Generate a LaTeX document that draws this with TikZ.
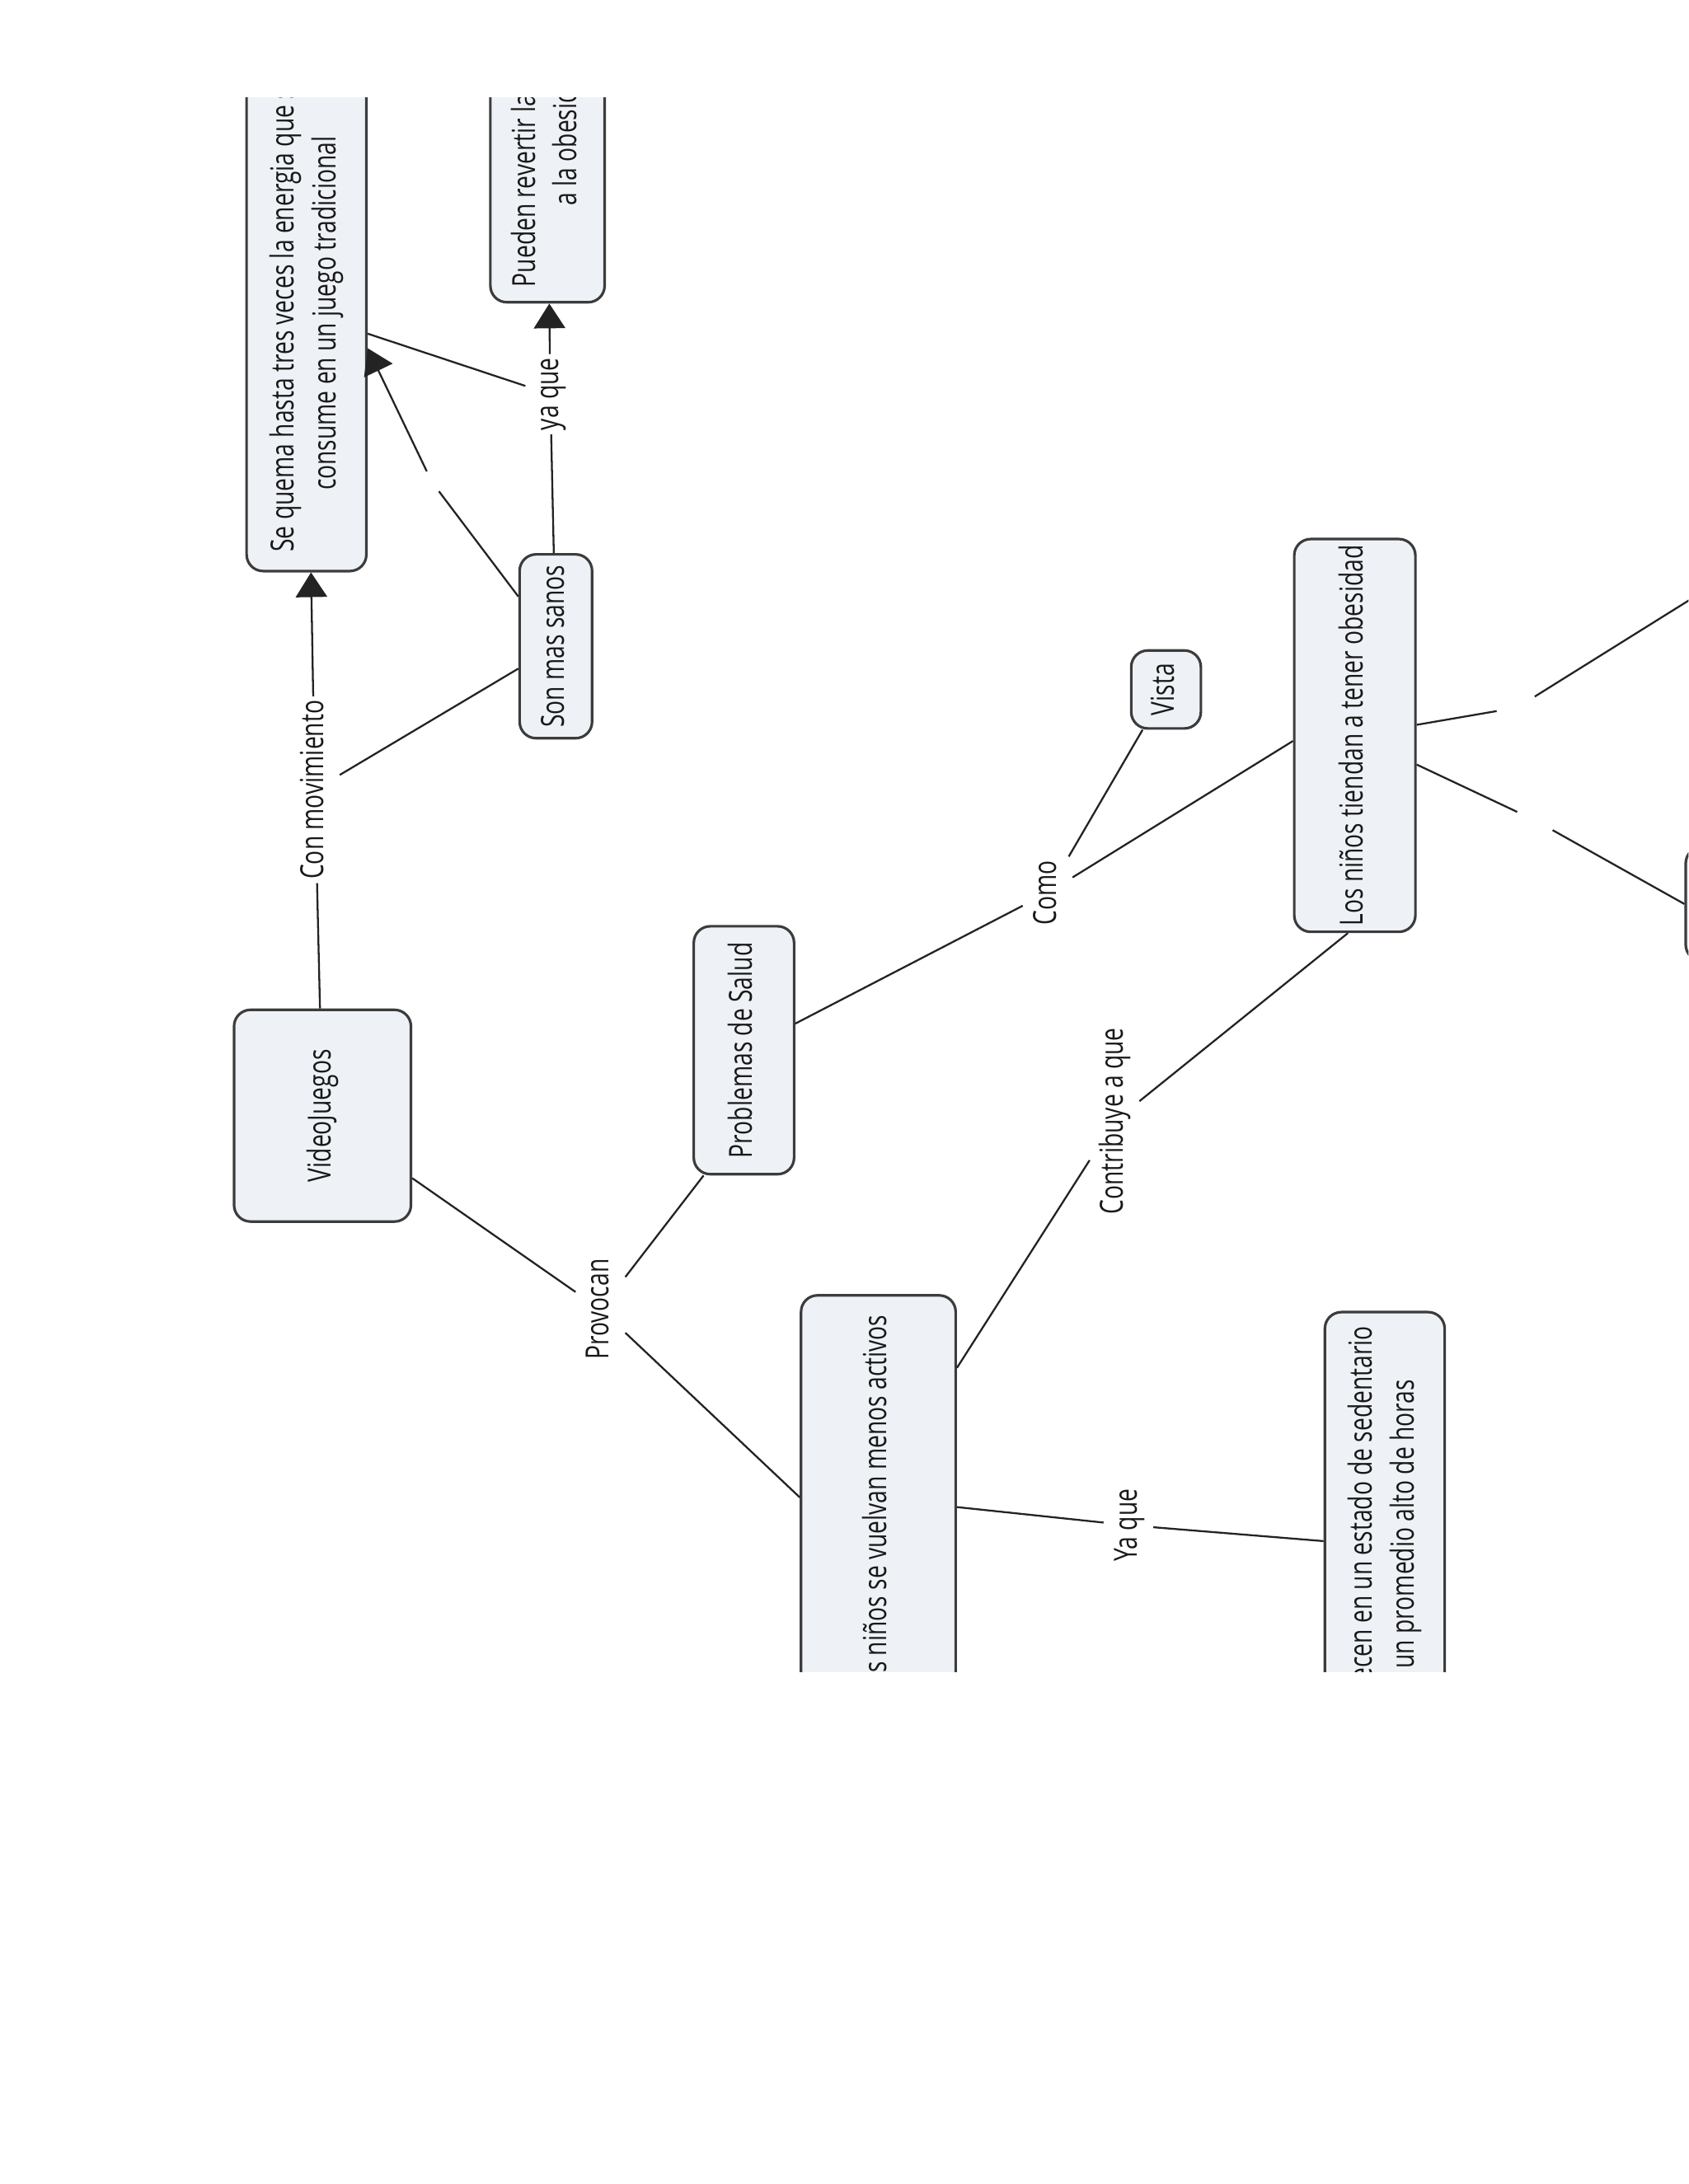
\documentclass[tikz,border=0pt]{standalone}
\usepackage{fontspec}
\setmainfont{Open Sans}[FakeStretch=0.73]
\usepackage{graphicx}
\usetikzlibrary{arrows.meta,calc}
\definecolor{boxc}{RGB}{238,242,246}
\definecolor{bordc}{RGB}{60,60,60}
\definecolor{linec}{RGB}{35,35,35}
\definecolor{txtc}{RGB}{25,25,25}
\newcommand\rt[1]{\rotatebox{90}{\begin{tabular}{@{}c@{}}#1\end{tabular}}}
\tikzset{
  concept/.style={draw=bordc, fill=boxc, rounded corners=2mm, line width=0.9pt,
    inner sep=0pt, text=txtc, font=\fontsize{11}{14.4}\selectfont},
  lbl/.style={inner sep=1.2pt, text=txtc, font=\fontsize{11}{14.4}\selectfont},
  gapn/.style={circle, inner sep=0pt},
  link/.style={draw=linec, line width=0.65pt},
  arr/.style={link, -{Triangle[width=3.8mm,length=3mm]}}
}
\begin{document}
\begin{tikzpicture}[x=0.169mm, y=-0.169mm]
\useasboundingbox (0,0) rectangle (1212,1568);
\fill[white] (0,0) rectangle (1212,1568);
\begin{scope}
\clip (0,70) rectangle (1212,1200);
% concepts
\node[concept, minimum width=21.46mm, minimum height=25.69mm] (vj) at (231.5,801) {\rt{VideoJuegos}};
\node[concept, minimum width=14.53mm, minimum height=62.53mm] (seq) at (220,225) {\rt{Se quema hasta tres veces la energia que se\\consume en un juego tradicional}};
\node[concept, minimum width=13.86mm, minimum height=40.9mm] (pue) at (393,96) {\rt{Pueden revertir la tendencia\\a la obesidad}};
\node[concept, minimum width=8.79mm, minimum height=22.31mm] (son) at (399,464) {\rt{Son mas sanos}};
\node[concept, minimum width=12.17mm, minimum height=30.08mm] (pro) at (534,754) {\rt{Problemas de Salud}};
\node[concept, minimum width=18.76mm, minimum height=51.38mm] (mact) at (630.5,1082) {\rt{Los niños se vuelvan menos activos}};
\node[concept, minimum width=8.45mm, minimum height=9.46mm] (vis) at (837,495) {\rt{Vista}};
\node[concept, minimum width=14.70mm, minimum height=47.66mm] (obe) at (972.5,528) {\rt{Los niños tiendan a tener obesidad}};
\node[concept, minimum width=14.53mm, minimum height=56.78mm] (sed) at (994,1110) {\rt{Permanecen en un estado de sedentario\\por un promedio alto de horas}};
\node[concept, minimum width=16.9mm, minimum height=13.86mm] (rbox) at (1260,649) {};
% linking phrases
\node[lbl] (lcon) at (226,567) {\rt{Con movimiento}};
\node[lbl] (lya1) at (395,283) {\rt{ya que}};
\node[gapn, minimum size=2.7mm] (lg1) at (310,346) {};
\node[lbl] (lprov) at (431,940) {\rt{Provocan}};
\node[lbl] (lcomo) at (752,641) {\rt{Como}};
\node[lbl] (lcontr) at (800,805) {\rt{Contribuye a que}};
\node[lbl] (lya2) at (810,1095) {\rt{Ya que}};
\node[gapn, minimum size=4.9mm] (lg2) at (1089,508) {};
\node[gapn, minimum size=4.7mm] (lg3) at (1102,589) {};
\coordinate (far) at (1262,400);
% connectors
\draw[link] (vj) -- (lcon);
\draw[arr] (lcon) -- (seq);
\draw[link] (lcon) -- (son);
\draw[link] (son) -- (lya1);
\draw[arr] (lya1) -- (pue);
\draw[link] (seq) -- (lya1);
\draw[link] (son) -- (lg1);
\draw[arr] (lg1) -- ($(seq.east)+(0,25)$);
\draw[link] (vj) -- (lprov);
\draw[link] (lprov) -- ($(pro.south west)+(8,0)$);
\draw[link] (lprov) -- ($(mact.west)+(0,-7)$);
\draw[link] (pro) -- (lcomo);
\draw[link] (lcomo) -- (vis);
\draw[link] (lcomo) -- ($(obe.west)+(0,4)$);
\draw[link] ($(mact.east)+(0,-100)$) -- (lcontr);
\draw[link] (lcontr) -- ($(obe.south)+(-5,0)$);
\draw[link] (mact.east) -- (lya2);
\draw[link] (lya2) -- (sed);
\draw[link] (obe) -- (lg2);
\draw[link] (lg2) -- (far);
\draw[link] (obe) -- (lg3);
\draw[link] (lg3) -- (rbox.west);
\end{scope}
\end{tikzpicture}
\end{document}
